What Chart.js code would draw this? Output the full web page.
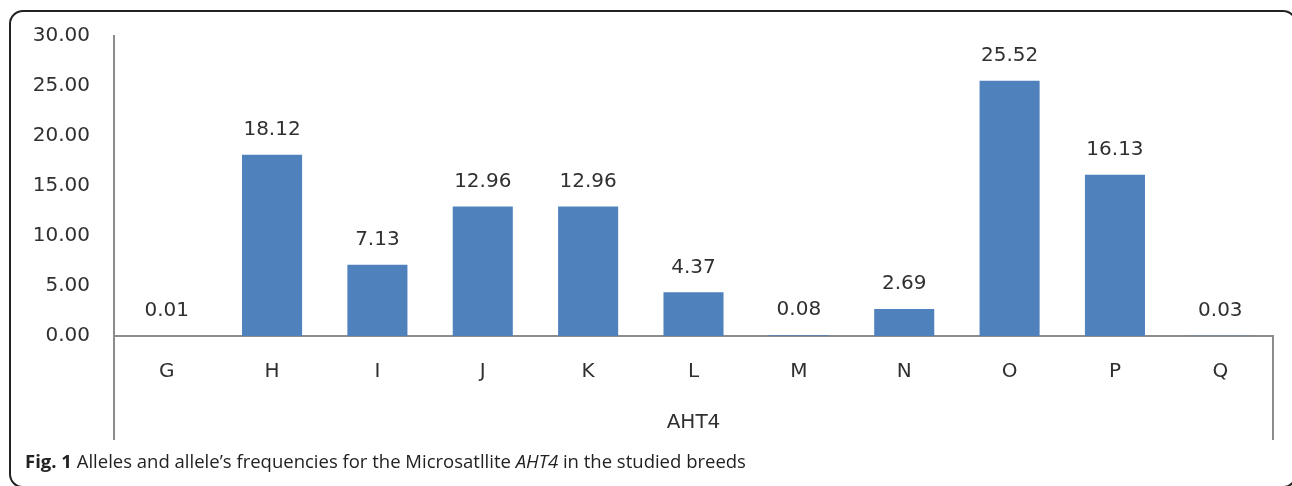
<!DOCTYPE html>
<html lang="en">
  <head>
    <meta charset="UTF-8" />
    <title>AHT4 allele frequencies</title>
    <script src="https://cdn.jsdelivr.net/npm/chart.js"></script>
    <style>
      body {
        margin: 0;
        background: #fff;
        width: 1292px;
        height: 486px;
        overflow: hidden;
        position: relative;
      }
      #frame {
        position: absolute;
        left: 9px;
        top: 10px;
        width: 1284px;
        height: 474px;
        border: 2px solid #222;
        border-radius: 14px;
      }
      #wrap {
        position: absolute;
        left: 0;
        top: 0;
        width: 1292px;
        height: 486px;
      }
      #caption {
        position: absolute;
        left: 25px;
        top: 448px;
        font-family: 'Open Sans', sans-serif;
        font-size: 18.5px;
        color: #222;
        white-space: nowrap;
      }
    </style>
  </head>
  <body>
    <div id="frame"></div>
    <div id="wrap"><canvas id="alleleChart"></canvas></div>
    <div id="caption">
      <b>Fig. 1</b> Alleles and allele’s frequencies for the Microsatllite
      <i>AHT4</i> in the studied breeds
    </div>
    <script>
      // alleles and their frequencies (%)
      const alleles = ['G', 'H', 'I', 'J', 'K', 'L', 'M', 'N', 'O', 'P', 'Q']
      const frequencies = [0.01, 18.12, 7.13, 12.96, 12.96, 4.37, 0.08, 2.69, 25.52, 16.13, 0.03]
      const yTicks = [0, 5, 10, 15, 20, 25, 30]
      const axisTitle = 'AHT4'

      const axisGrey = '#8c8c8c'
      const textColor = '#303030'
      const fontFamily = "'DejaVu Sans', sans-serif"

      // value labels over each bar
      const valueLabels = {
        id: 'valueLabels',
        afterDatasetsDraw(chart) {
          const ctx = chart.ctx
          const meta = chart.getDatasetMeta(0)
          ctx.save()
          ctx.font = '20px ' + fontFamily
          ctx.fillStyle = textColor
          ctx.textAlign = 'center'
          ctx.textBaseline = 'middle'
          meta.data.forEach((bar, i) => {
            ctx.fillText(frequencies[i].toFixed(2), bar.x, bar.y - 25)
          })
          ctx.restore()
        }
      }

      // the category axis box lines below the plot (Excel style)
      const axisBox = {
        id: 'axisBox',
        afterDraw(chart) {
          const ctx = chart.ctx
          const area = chart.chartArea
          const xScale = chart.scales.x
          ctx.save()
          ctx.strokeStyle = axisGrey
          ctx.lineWidth = 2
          ctx.beginPath()
          ctx.moveTo(area.left, area.bottom)
          ctx.lineTo(area.left, xScale.bottom)
          ctx.moveTo(area.right, area.bottom)
          ctx.lineTo(area.right, xScale.bottom)
          ctx.stroke()
          ctx.restore()
        }
      }

      const ctx = document.getElementById('alleleChart').getContext('2d')
      new Chart(ctx, {
        type: 'bar',
        data: {
          labels: alleles,
          datasets: [
            {
              data: frequencies,
              backgroundColor: '#4F81BD',
              borderWidth: 0,
              barPercentage: 0.57,
              categoryPercentage: 1
            }
          ]
        },
        options: {
          responsive: true,
          maintainAspectRatio: false,
          animation: false,
          layout: {
            padding: { left: 0, right: 19, top: 36, bottom: 46 }
          },
          plugins: {
            legend: { display: false },
            tooltip: { enabled: false }
          },
          scales: {
            x: {
              grid: { display: false, drawTicks: false },
              border: { display: true, color: axisGrey, width: 2 },
              ticks: {
                padding: 24,
                color: textColor,
                font: { family: fontFamily, size: 20 }
              },
              title: {
                display: true,
                text: axisTitle,
                color: textColor,
                font: { family: fontFamily, size: 20 },
                padding: { top: 0, bottom: 5 }
              },
              afterFit(scale) {
                scale.height = 104
              }
            },
            y: {
              min: 0,
              max: 30,
              afterBuildTicks(scale) {
                scale.ticks = yTicks.map(v => ({ value: v }))
              },
              grid: { display: false, drawTicks: false },
              border: { display: true, color: axisGrey, width: 2 },
              ticks: {
                padding: 24,
                color: textColor,
                font: { family: fontFamily, size: 20 },
                callback: v => Number(v).toFixed(2)
              },
              afterFit(scale) {
                scale.width = 114
              }
            }
          }
        },
        plugins: [valueLabels, axisBox]
      })
    </script>
  </body>
</html>
